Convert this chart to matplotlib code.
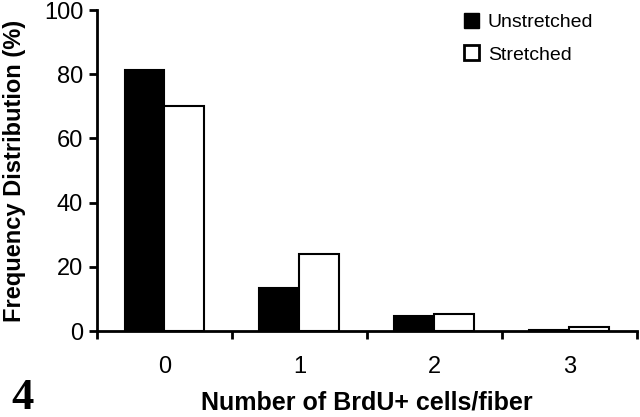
import matplotlib
matplotlib.use('Agg')
import matplotlib.pyplot as plt
import matplotlib.patches as mpatches
import numpy as np

# Data
categories = ['0', '1', '2', '3']
unstretched = [81.2, 13.4, 4.6, 0.4]
stretched = [70.1, 24.0, 5.2, 1.1]
y_ticks = [0, 20, 40, 60, 80, 100]

plt.rcParams['font.family'] = ['Liberation Sans', 'DejaVu Sans']

fig = plt.figure(figsize=(6.4, 4.17), dpi=100)
ax = fig.add_axes([0.1516, 0.2062, 0.8434, 0.7698])

x = np.arange(len(categories))
w = 0.296
ax.bar(x - w / 2, unstretched, w, color='black', edgecolor='black', linewidth=1.5)
ax.bar(x + w / 2, stretched, w, color='white', edgecolor='black', linewidth=1.5)

ax.set_xlim(-0.5, len(categories) - 0.5)
ax.set_ylim(0, 100)
ax.set_yticks(y_ticks)
ax.set_yticklabels([str(t) for t in y_ticks], fontsize=17)

# category labels between boundary ticks (Excel style)
ax.set_xticks(np.arange(-0.5, len(categories)), minor=False)
ax.set_xticklabels([])
ax.set_xticks(x, minor=True)
ax.set_xticklabels(categories, minor=True, fontsize=17)
ax.tick_params(axis='x', which='minor', length=0, pad=18)
ax.tick_params(axis='x', which='major', length=6, width=2, direction='out')
ax.tick_params(axis='y', length=6, width=2, direction='out', pad=4)

for side in ['top', 'right']:
    ax.spines[side].set_visible(False)
for side in ['left', 'bottom']:
    ax.spines[side].set_linewidth(2)

ax.set_ylabel('Frequency Distribution (%)', fontsize=17, fontweight='bold')
ax.yaxis.set_label_coords(-0.132, 0.5)
ax.set_xlabel('Number of BrdU+ cells/fiber', fontsize=18, fontweight='bold', labelpad=9)

handles = [
    mpatches.Patch(facecolor='black', edgecolor='black', label='Unstretched'),
    mpatches.Patch(facecolor='white', edgecolor='black', linewidth=2, label='Stretched'),
]
fig.legend(handles=handles, loc='upper left', bbox_to_anchor=(0.706, 1.0),
           frameon=False, fontsize=14, handlelength=0.75, handleheight=0.8,
           handletextpad=0.45, labelspacing=0.75, borderpad=0.15)

fig.text(0.018, 0.02, '4', fontsize=32, fontweight='bold',
         family=['Liberation Serif', 'DejaVu Serif'])

fig.savefig('out.png', dpi=100)
